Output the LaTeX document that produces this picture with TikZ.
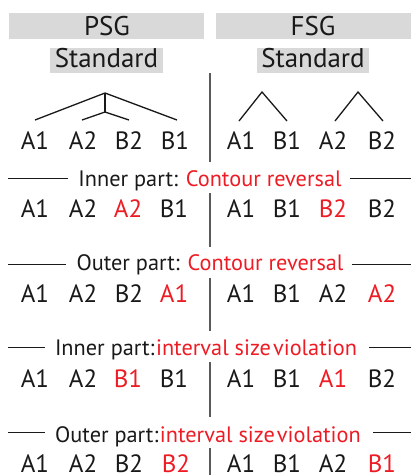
\documentclass[tikz,border=0pt]{standalone}
\usepackage{fontspec}
\setmainfont{PT Sans}
\definecolor{hl}{RGB}{237,28,36}
\definecolor{boxgray}{RGB}{217,217,217}
\definecolor{divider}{RGB}{90,90,90}
\definecolor{ink}{RGB}{25,25,25}
\begin{document}
\begin{tikzpicture}[x=1pt,y=-1pt,
  hdrbox/.style={fill=boxgray, draw=none, inner sep=0pt},
  hdrtext/.style={anchor=base, inner sep=0pt, text=ink, font=\fontsize{27}{30}\selectfont},
  tok/.style={anchor=base, inner sep=0pt, text=ink, font=\fontsize{25}{29}\selectfont},
  badtok/.style={tok, text=hl},
  septext/.style={anchor=base, inner sep=0pt, text=ink, font=\fontsize{22.3}{26}\selectfont},
  sepline/.style={draw=ink, line width=0.9pt},
  tree/.style={draw=ink, line width=1.3pt},
  divline/.style={draw=divider, line width=1.5pt}]
\useasboundingbox (0,0) rectangle (411,475);

% header boxes
\node[hdrbox, minimum width=195, minimum height=26] (psgbox) at (106.5,26) {};
\node[hdrbox, minimum width=195, minimum height=26] (fsgbox) at (313.5,26) {};
\node[hdrbox, minimum width=113, minimum height=25] (stdl) at (106.5,60.5) {};
\node[hdrbox, minimum width=112, minimum height=25] (stdr) at (313,60.5) {};
\node[hdrtext] (psg) at (107,35.5) {PSG};
\node[hdrtext] (fsg) at (313,35.5) {FSG};
\node[hdrtext] (stdltxt) at (106.5,67) {Standard};
\node[hdrtext] (stdrtxt) at (313,67) {Standard};

% row 1: standard orders
\node[tok] (r1a) at (35,149) {A1};
\node[tok] (r1b) at (83,149) {A2};
\node[tok] (r1c) at (129,149) {B2};
\node[tok] (r1d) at (175,149) {B1};
\node[tok] (r1e) at (241,149) {A1};
\node[tok] (r1f) at (287,149) {B1};
\node[tok] (r1g) at (333,149) {A2};
\node[tok] (r1h) at (382,149) {B2};

% PSG tree
\coordinate (papex) at (105,93);
\coordinate (pjoin) at (105,112);
\coordinate (pa) at (35,120);
\coordinate (pb) at (82,120);
\coordinate (pc) at (129,120);
\coordinate (pd) at (177,120);
\draw[tree] (pa) -- (papex) -- (pd);
\draw[tree] (papex) -- (pjoin);
\draw[tree] (pb) -- (pjoin) -- (pc);

% FSG trees
\coordinate (fapex1) at (262,92);
\coordinate (fapex2) at (358,92);
\coordinate (fa) at (239,121);
\coordinate (fb) at (287,121);
\coordinate (fc) at (335,121);
\coordinate (fd) at (383,121);
\draw[tree] (fa) -- (fapex1) -- (fb);
\draw[tree] (fc) -- (fapex2) -- (fd);

% separators
\node[septext] (s1) at (210,186) {Inner part: \textcolor{hl}{Contour reversal}};
\node[septext] (s2) at (210,270) {Outer part: \textcolor{hl}{Contour reversal}};
\node[septext] (s3) at (206,355) {Inner part:\hspace{1.5pt}\textcolor{hl}{interval size\hspace{2pt}violation}};
\node[septext] (s4) at (208,442) {Outer part:\hspace{1.5pt}\textcolor{hl}{interval size\hspace{2pt}violation}};

\coordinate (s1l) at (8,178);   \coordinate (s1r) at (411,178);
\coordinate (s2l) at (8,264);   \coordinate (s2r) at (411,264);
\coordinate (s3l) at (8,347);   \coordinate (s3r) at (411,347);
\coordinate (s4l) at (8,432);   \coordinate (s4r) at (411,432);
\draw[sepline] (s1l) -- ([xshift=-10pt]s1.west |- s1l);
\draw[sepline] ([xshift=8pt]s1.east |- s1r) -- (s1r);
\draw[sepline] (s2l) -- ([xshift=-10pt]s2.west |- s2l);
\draw[sepline] ([xshift=8pt]s2.east |- s2r) -- (s2r);
\draw[sepline] (s3l) -- ([xshift=-10pt]s3.west |- s3l);
\draw[sepline] ([xshift=12pt]s3.east |- s3r) -- (s3r);
\draw[sepline] (s4l) -- ([xshift=-10pt]s4.west |- s4l);
\draw[sepline] ([xshift=12pt]s4.east |- s4r) -- (s4r);

% row 2
\node[tok] (r2a) at (35,217) {A1};
\node[tok] (r2b) at (83,217) {A2};
\node[badtok] (r2c) at (128,217) {A2};
\node[tok] (r2d) at (174,217) {B1};
\node[tok] (r2e) at (241,217) {A1};
\node[tok] (r2f) at (287,217) {B1};
\node[badtok] (r2g) at (333,217) {B2};
\node[tok] (r2h) at (382,217) {B2};

% row 3
\node[tok] (r3a) at (35,302) {A1};
\node[tok] (r3b) at (83,302) {A2};
\node[tok] (r3c) at (129,302) {B2};
\node[badtok] (r3d) at (174,302) {A1};
\node[tok] (r3e) at (241,302) {A1};
\node[tok] (r3f) at (287,302) {B1};
\node[tok] (r3g) at (333,302) {A2};
\node[badtok] (r3h) at (382,302) {A2};

% row 4
\node[tok] (r4a) at (35,387) {A1};
\node[tok] (r4b) at (83,387) {A2};
\node[badtok] (r4c) at (128,387) {B1};
\node[tok] (r4d) at (174,387) {B1};
\node[tok] (r4e) at (241,387) {A1};
\node[tok] (r4f) at (287,387) {B1};
\node[badtok] (r4g) at (333,387) {A1};
\node[tok] (r4h) at (382,387) {B2};

% row 5
\node[tok] (r5a) at (35,472) {A1};
\node[tok] (r5b) at (83,472) {A2};
\node[tok] (r5c) at (129,472) {B2};
\node[badtok] (r5d) at (176,472) {B2};
\node[tok] (r5e) at (241,472) {A1};
\node[tok] (r5f) at (287,472) {B1};
\node[tok] (r5g) at (333,472) {A2};
\node[badtok] (r5h) at (382,472) {B1};

% central divider, broken at each separator
\coordinate (d1a) at (210,73);  \coordinate (d1b) at (210,162);
\coordinate (d2a) at (210,193); \coordinate (d2b) at (210,247);
\coordinate (d3a) at (210,278); \coordinate (d3b) at (210,331);
\coordinate (d4a) at (210,362); \coordinate (d4b) at (210,417);
\coordinate (d5a) at (210,448); \coordinate (d5b) at (210,475);
\draw[divline] (d1a) -- (d1b);
\draw[divline] (d2a) -- (d2b);
\draw[divline] (d3a) -- (d3b);
\draw[divline] (d4a) -- (d4b);
\draw[divline] (d5a) -- (d5b);
\end{tikzpicture}
\end{document}
